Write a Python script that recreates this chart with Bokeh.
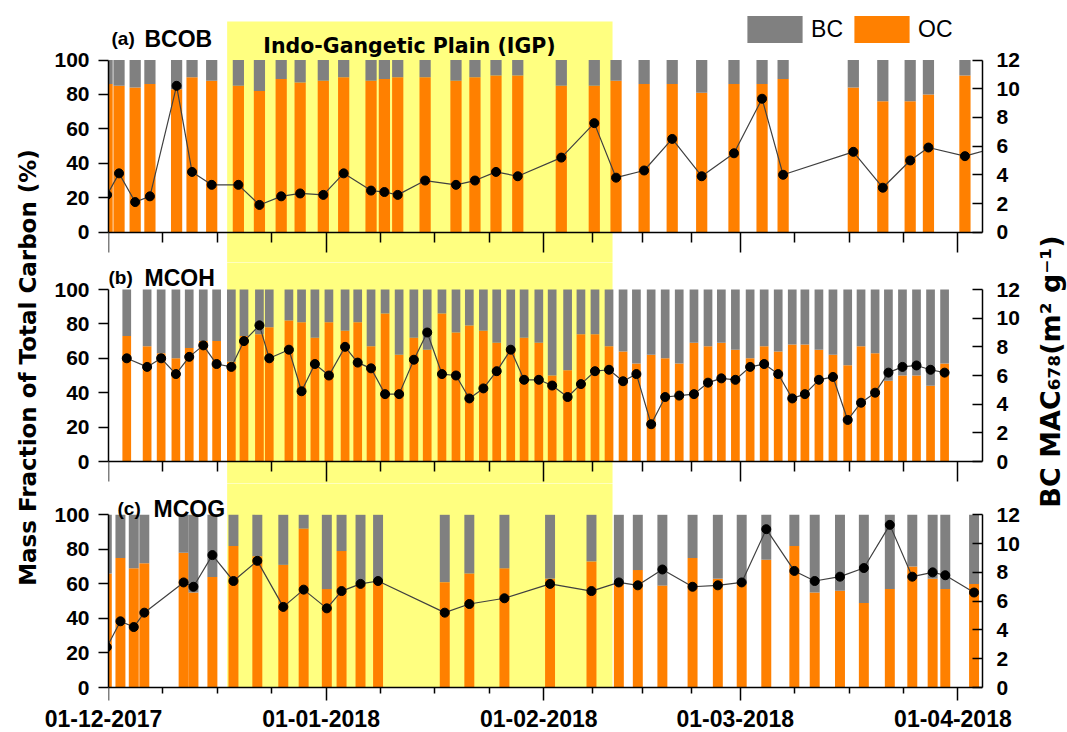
import math
from bokeh.plotting import figure
from bokeh.models import (Range1d, LinearAxis, FixedTicker, Label, ColumnDataSource,
                          Legend, LegendItem)
from bokeh.layouts import row, column
from bokeh.embed import file_html
from bokeh.resources import INLINE

FONT = "Liberation Sans"
WIDE = "DejaVu Sans"
ORANGE = "#FF8000"
GRAY = "#808080"
YELLOW = "#FFFF80"

# ---------------- data (x = days since 01-12-2017) ----------------
month_ticks = [0, 31, 62, 90, 121]
month_labels = ["01-12-2017", "01-01-2018", "01-02-2018", "01-03-2018", "01-04-2018"]
pct_ticks = [0, 20, 40, 60, 80, 100]
mac_ticks = [0, 2, 4, 6, 8, 10, 12]
igp_start, igp_end = 16.9, 71.8
igp_label = "Indo-Gangetic Plain (IGP)"

bcob_day = [-0.2, 1.5, 3.8, 5.9, 9.7, 11.9, 14.7, 18.5, 21.5, 24.6, 27.3, 30.6, 33.5, 37.4,
            39.3, 41.2, 45.1, 49.5, 52.2, 55.2, 58.3, 64.5, 69.2, 72.3, 76.3, 80.3, 84.5,
            89.1, 93.1, 96.1, 106.1, 110.3, 114.2, 116.8, 122.0, 126.5]
bcob_oc = [86, 85, 84, 86, 83, 90, 88, 85, 82, 89, 87, 88, 90, 88, 89, 90, 90, 88, 90, 91,
           91, 85, 85, 88, 86, 86, 81, 86, 86, 89, 84, 76, 76, 80, 91, 85]
bcob_mac = [2.6, 4.1, 2.1, 2.5, 10.2, 4.2, 3.3, 3.3, 1.9, 2.5, 2.7, 2.6, 4.1, 2.9, 2.8, 2.6,
            3.6, 3.3, 3.6, 4.2, 3.9, 5.2, 7.6, 3.8, 4.3, 6.5, 3.9, 5.5, 9.3, 4.0, 5.6, 3.1,
            5.0, 5.9, 5.3, 5.9]

mcoh_day = [2.6, 5.5, 7.5, 9.6, 11.5, 13.5, 15.4, 17.5, 19.3, 21.5, 22.9, 25.7, 27.5, 29.4,
            31.4, 33.7, 35.5, 37.4, 39.4, 41.4, 43.5, 45.4, 47.5, 49.5, 51.4, 53.4, 55.3,
            57.3, 59.2, 61.3, 63.2, 65.4, 67.3, 69.3, 71.3, 73.3, 75.2, 77.3, 79.3, 81.3,
            83.4, 85.4, 87.3, 89.3, 91.4, 93.4, 95.4, 97.4, 99.2, 101.2, 103.2, 105.3,
            107.2, 109.2, 111.1, 113.1, 115.1, 117.1, 119.1]
mcoh_oc = [73, 67, 63, 60, 66, 70, 70, 58, 73, 74, 78, 82, 81, 72, 81, 76, 81, 67, 86, 62,
           72, 65, 86, 75, 79, 76, 69, 65, 72, 69, 50, 53, 74, 74, 67, 64, 57, 62, 60, 57,
           69, 67, 69, 65, 60, 67, 64, 68, 68, 65, 62, 56, 67, 63, 47, 50, 50, 44, 57]
mcoh_mac = [7.2, 6.6, 7.2, 6.1, 7.3, 8.1, 6.8, 6.6, 8.4, 9.5, 7.2, 7.8, 4.9, 6.8, 6.0, 8.0,
            6.9, 6.5, 4.7, 4.7, 7.1, 9.0, 6.1, 6.0, 4.4, 5.1, 6.3, 7.8, 5.7, 5.7, 5.3, 4.5,
            5.4, 6.3, 6.4, 5.6, 6.1, 2.6, 4.5, 4.6, 4.7, 5.5, 5.8, 5.7, 6.6, 6.8, 6.1, 4.4,
            4.7, 5.7, 5.9, 2.9, 4.1, 4.8, 6.2, 6.6, 6.7, 6.4, 6.2]

mcog_day = [-0.24, 1.7, 3.6, 5.1, 10.7, 12.1, 14.8, 17.8, 21.2, 24.9, 27.8, 31.1, 33.2, 35.9,
            38.4, 47.9, 51.4, 56.4, 62.9, 68.8, 72.7, 75.4, 78.9, 83.2, 86.8, 90.2, 93.7,
            97.7, 100.6, 104.2, 107.6, 111.3, 114.5, 117.4, 119.2, 123.3]
mcog_oc = [66, 75, 69, 72, 78, 55, 64, 82, 76, 71, 92, 57, 79, 60, 62, 61, 66, 69, 63, 73,
           60, 68, 59, 75, 63, 60, 74, 82, 55, 56, 49, 57, 70, 63, 57, 60]
mcog_mac = [2.8, 4.6, 4.2, 5.2, 7.3, 7.0, 9.2, 7.4, 8.8, 5.6, 6.8, 5.5, 6.7, 7.2, 7.4, 5.2,
            5.8, 6.2, 7.2, 6.7, 7.3, 7.1, 8.2, 7.0, 7.1, 7.3, 11.0, 8.1, 7.4, 7.7, 8.3, 11.3,
            7.7, 8.0, 7.8, 6.6]

# ---------------- layout geometry (page pixels, origin top-left) ----------------
PX_PER_DAY = 7.02
FRAME_W = 874
COL_LEFT = 48
COL_W = 982
RIGHT_W = 37
TOP_H = 703
STRIP_H = 29
TOTAL_W = COL_LEFT + COL_W + RIGHT_W

minor_ticks = []
for a, b in zip(month_ticks[:-1], month_ticks[1:]):
    minor_ticks += [a + (b - a) * k / 4 for k in (1, 2, 3)]


def style_text(obj, prefix, size, bold=True, font=FONT):
    setattr(obj, prefix + "text_font", font)
    setattr(obj, prefix + "text_font_size", size)
    setattr(obj, prefix + "text_font_style", "bold" if bold else "normal")
    setattr(obj, prefix + "text_color", "black")


def tick_axis(loc, ticks, length, line=True):
    ax = LinearAxis(fixed_location=loc, ticker=FixedTicker(ticks=[], minor_ticks=ticks))
    ax.minor_tick_in = 0
    ax.minor_tick_out = length
    ax.minor_tick_line_width = 1.5
    ax.minor_tick_line_color = "black"
    ax.major_tick_line_color = None
    if line:
        ax.axis_line_width = 1.5
    else:
        ax.axis_line_color = None
    return ax


def make_panel(g, day, oc, mac, bar_w, tag, name, last):
    fh = g["bottom"] - g["top"]
    ys = -(g["bottom"] - g["y0"]) / g["ppp"]
    ye = ys + fh / g["ppp"]
    ml = g["left"] - COL_LEFT
    p = figure(title=None, frame_width=FRAME_W, frame_height=fh,
               x_range=Range1d(0, FRAME_W / PX_PER_DAY), y_range=Range1d(ys, ye),
               min_border=0, min_border_left=ml, min_border_right=COL_W - ml - FRAME_W,
               min_border_top=0, min_border_bottom=0,
               x_axis_location=None, toolbar_location=None, output_backend="svg",
               outline_line_color=None, border_fill_color=None,
               background_fill_color=None)
    p.grid.visible = False
    p.extra_y_ranges = {"mac": Range1d(ys * 0.12, ye * 0.12)}

    def dx(px):
        return (px - g["left"]) / PX_PER_DAY

    def dy(py):
        return (g["y0"] - py) / g["ppp"]

    band_top = dy(g["band_top"]) if "band_top" in g else ye + 3
    band_bot = 0 if last else ys - 3
    p.quad(left=igp_start, right=igp_end, bottom=band_bot, top=band_top,
           fill_color=YELLOW, line_color=None)

    bc = [100 - v for v in oc]
    src = ColumnDataSource(dict(day=day, oc=oc, bc=bc, mac=mac))
    rs = p.vbar_stack(["oc", "bc"], x="day", width=bar_w, source=src,
                      fill_color=[ORANGE, GRAY], line_color=None)
    p.line("day", "mac", source=src, y_range_name="mac", line_color="#404040", line_width=1.2)
    p.scatter("day", "mac", source=src, y_range_name="mac", size=9,
              fill_color="black", line_color="black")

    # left axis
    ya = p.yaxis[0]
    ya.ticker = FixedTicker(ticks=pct_ticks)
    ya.bounds = (0, 100)
    ya.major_tick_in = 0
    ya.major_tick_out = 10
    ya.minor_tick_line_color = None
    ya.major_label_standoff = 9
    ya.axis_line_width = 1.5
    ya.major_tick_line_width = 1.5
    style_text(ya, "major_label_", "21px")

    # right axis
    ra = LinearAxis(y_range_name="mac", ticker=FixedTicker(ticks=mac_ticks), bounds=(0, 12))
    ra.major_tick_in = 10
    ra.major_tick_out = 0
    ra.minor_tick_line_color = None
    ra.major_label_standoff = 14
    ra.axis_line_width = 1.5
    ra.major_tick_line_width = 1.5
    style_text(ra, "major_label_", "21px")
    p.add_layout(ra, "right")

    # bottom axis at y = 0 (ticks only, labels live in the strip below)
    major_len, minor_len = (13, 6) if last else (20, 10)
    p.add_layout(tick_axis(0, minor_ticks, minor_len, line=True), "below")
    p.add_layout(tick_axis(0, month_ticks, major_len, line=False), "below")

    # panel tag
    lt = Label(x=dx(g["tag_x"]), y=dy(g["tag_base"]), text=tag, text_baseline="alphabetic")
    style_text(lt, "", "19px")
    p.add_layout(lt)
    ln = Label(x=dx(g["name_x"]), y=dy(g["tag_base"]), text=name, text_baseline="alphabetic")
    style_text(ln, "", "23px")
    p.add_layout(ln)
    return p, rs, dx, dy


geo_a = dict(left=108, top=0, bottom=262, y0=231.7, ppp=1.722, band_top=21,
             tag_x=111, name_x=144, tag_base=38.3)
geo_b = dict(left=107, top=262, bottom=483, y0=461, ppp=1.72,
             tag_x=107, name_x=143, tag_base=277.3)
geo_c = dict(left=103, top=483, bottom=TOP_H, y0=687, ppp=1.727,
             tag_x=112, name_x=148, tag_base=508.3)

pa, rsa, dxa, dya = make_panel(geo_a, bcob_day, bcob_oc, bcob_mac, 1.6, "(a)", "BCOB", False)
pb, _, _, _ = make_panel(geo_b, mcoh_day, mcoh_oc, mcoh_mac, 1.24, "(b)", "MCOH", False)
pc, _, _, _ = make_panel(geo_c, mcog_day, mcog_oc, mcog_mac, 1.42, "(c)", "MCOG", True)

# IGP label
igp = Label(x=dxa(409), y=dya(45), text=igp_label, text_align="center",
            text_baseline="alphabetic")
style_text(igp, "", "20.5px", font=WIDE)
pa.add_layout(igp)

# legend
leg = Legend(items=[LegendItem(label="BC", renderers=[rsa[1]]),
                    LegendItem(label="OC", renderers=[rsa[0]])],
             orientation="horizontal",
             location=(740.1 - geo_a["left"], geo_a["bottom"] - 46.1),
             glyph_width=69, glyph_height=34, label_standoff=2, spacing=4,
             padding=0, margin=0, border_line_color=None, background_fill_alpha=0)
style_text(leg, "label_", "23px", bold=False)
pa.add_layout(leg)


def title_fig(w, text, bx, cy, size):
    t = figure(title=None, width=w, height=TOP_H, x_range=Range1d(0, w),
               y_range=Range1d(0, TOP_H),
               min_border=0, x_axis_location=None, y_axis_location=None,
               toolbar_location=None, output_backend="svg", outline_line_color=None)
    t.grid.visible = False
    lab = Label(x=bx, y=TOP_H - cy, text=text, angle=math.pi / 2, text_align="center",
                text_baseline="alphabetic")
    style_text(lab, "", size, font=WIDE)
    t.add_layout(lab)
    return t


left_title = title_fig(COL_LEFT, "Mass Fraction of Total Carbon (%)", 27.5, 367, "23px")
right_title = title_fig(RIGHT_W, "BC MAC\u2086\u2087\u2088(m\u00b2 g\u207b\u00b9)", 18, 371, "27px")

# strip with the date labels, aligned to panel (c)
x0 = -geo_c["left"] / PX_PER_DAY
strip = figure(title=None, width=TOTAL_W, height=STRIP_H,
               x_range=Range1d(x0, x0 + TOTAL_W / PX_PER_DAY), y_range=Range1d(0, STRIP_H),
               min_border=0, x_axis_location=None, y_axis_location=None,
               toolbar_location=None, output_backend="svg", outline_line_color=None)
strip.grid.visible = False
lab_ax = LinearAxis(fixed_location=STRIP_H, ticker=FixedTicker(ticks=month_ticks))
lab_ax.major_label_overrides = dict(zip(month_ticks, month_labels))
lab_ax.major_tick_in = 0
lab_ax.major_tick_out = 0
lab_ax.major_tick_line_color = None
lab_ax.minor_tick_line_color = None
lab_ax.axis_line_color = None
lab_ax.major_label_standoff = 6
style_text(lab_ax, "major_label_", "23px")
strip.add_layout(lab_ax, "below")

layout = column(row(left_title, column(pa, pb, pc), right_title), strip)

open("out.html", "w").write(file_html(layout, INLINE))
